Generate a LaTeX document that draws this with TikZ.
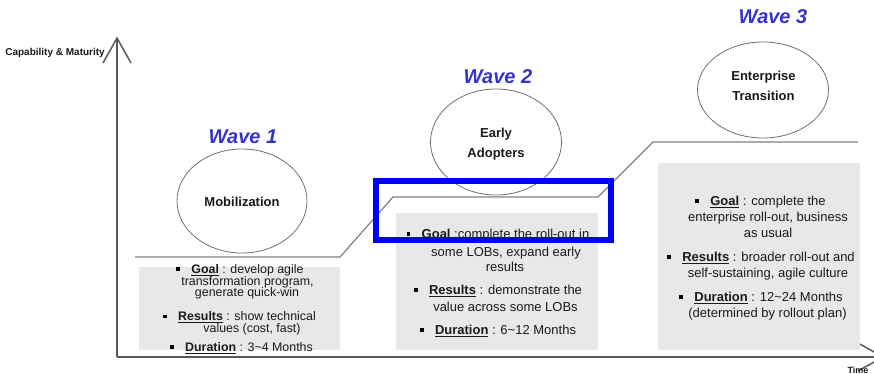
\documentclass[tikz,border=0pt]{standalone}
\usepackage{fontspec}
\setmainfont{Liberation Sans}
\usetikzlibrary{calc,shapes.geometric}
\definecolor{wavec}{HTML}{3333CC}
\definecolor{axisc}{HTML}{5A5A5A}
\definecolor{stairc}{HTML}{808080}
\definecolor{ovalc}{HTML}{707070}
\definecolor{panelc}{HTML}{E8E8E8}
\definecolor{bodyc}{HTML}{1A1A1A}
\newcommand\hd[1]{\underline{\textbf{#1}}}
% first line of a bulleted paragraph: text node plus a square bullet to its left
\newcommand\bulletline[5][]{%
  \node[body,#1] (#2) at (#3,#4) {#5};
  \node[bul] (#2-b) at ($(#2.base west)+(-13,-4.3)$) {};}
\begin{document}
\begin{tikzpicture}[x=1pt,y=-1pt,
  wave/.style={font=\fontsize{20}{20}\selectfont\bfseries\itshape, text=wavec, inner sep=0pt, anchor=base},
  body/.style={font=\fontsize{13}{13}\selectfont, text=bodyc, inner sep=0pt, anchor=base},
  tight/.style={font=\fontsize{12.4}{12.4}\selectfont},
  stage/.style={font=\fontsize{13}{13}\selectfont\bfseries, text=bodyc, inner sep=0pt, anchor=base},
  axislabel/.style={font=\fontsize{10}{10}\selectfont\bfseries, text=bodyc, inner sep=0pt},
  oval/.style={ellipse, draw=ovalc, line width=0.8pt, fill=white, inner sep=0pt},
  panel/.style={fill=panelc, draw=none},
  bul/.style={rectangle, fill=black, draw=none, minimum size=3.5pt, inner sep=0pt},
  axis/.style={draw=axisc, line width=1.5pt},
  stair/.style={draw=stairc, line width=1.2pt},
  focus/.style={draw=blue, line width=6pt}]
\useasboundingbox (0,0) rectangle (874,374);
\clip (0,0) rectangle (874,374);

% axes
\coordinate (ytip) at (117,38);
\coordinate (origin) at (117,357);
\coordinate (xtip) at (883,357);
\draw[axis] (origin) -- (ytip);
\draw[axis] (origin) -- (xtip);
\draw[axis] (103,63) -- (ytip) -- (131,63);
\draw[axis] (858,343) -- (xtip) -- (858,371);
\node[axislabel, anchor=base east] (ylab) at (105,55.5) {Capability \& Maturity};
\node[axislabel, font=\fontsize{9}{9}\selectfont\bfseries, anchor=base] (xlab) at (858,373.5) {Time};

% maturity staircase
\coordinate (s0) at (135,257);
\coordinate (s1) at (340,257);
\coordinate (s2) at (393,197);
\coordinate (s3) at (598,197);
\coordinate (s4) at (653,142);
\coordinate (s5) at (858,142);
\draw[stair] (s0) -- (s1) -- (s2) -- (s3) -- (s4) -- (s5);

% description panels
\fill[panel] (139,267) rectangle (340,350);
\fill[panel] (396,213) rectangle (598,350);
\fill[panel] (658,163) rectangle (860,350);

% wave ovals
\node[oval, minimum width=130pt, minimum height=104pt] (e1) at (242,201) {};
\node[oval, minimum width=131pt, minimum height=106pt] (e2) at (496,142) {};
\node[oval, minimum width=131pt, minimum height=96pt] (e3) at (763,90) {};
\node[stage] (e1t) at (242,206.5) {Mobilization};
\node[stage] (e2t) at (496,137.5) {Early};
\node[stage] (e2u) at (496,157.5) {Adopters};
\node[stage] (e3t) at (763.5,80.5) {Enterprise};
\node[stage] (e3u) at (763.5,100.5) {Transition};

% wave titles
\node[wave] (w1) at (243,144) {Wave 1};
\node[wave] (w2) at (498,84) {Wave 2};
\node[wave] (w3) at (773,24) {Wave 3};

% wave 1 panel text (tightly spaced)
\bulletline[tight]{a1}{247.5}{273.5}{\hd{Goal} : develop agile}
\node[body,tight] (a1b) at (247.5,285.2) {transformation program,};
\node[body,tight] (a1c) at (247,296.9) {generate quick-win};
\bulletline[tight]{a2}{247}{320.8}{\hd{Results} : show technical}
\node[body,tight] (a2b) at (252,332.5) {values (cost, fast)};
\bulletline[tight]{a3}{249}{351.5}{\hd{Duration} : 3\textasciitilde 4 Months}

% wave 2 panel text
\bulletline{b1}{505.5}{238.5}{\hd{Goal} :complete the roll-out in}
\node[body] (b1b) at (506,256.5) {some LOBs, expand early};
\node[body] (b1c) at (505,271.5) {results};
\bulletline{b2}{505.5}{294.5}{\hd{Results} : demonstrate the}
\node[body] (b2b) at (505.5,311.5) {value across some LOBs};
\bulletline{b3}{505.5}{334.5}{\hd{Duration} : 6\textasciitilde 12 Months}

% wave 3 panel text
\bulletline{c1}{768}{205.5}{\hd{Goal} : complete the}
\node[body] (c1b) at (768,221.5) {enterprise roll-out, business};
\node[body] (c1c) at (768,237.5) {as usual};
\bulletline{c2}{768.5}{261.5}{\hd{Results} : broader roll-out and}
\node[body] (c2b) at (768,277.5) {self-sustaining, agile culture};
\bulletline{c3}{768.5}{301.5}{\hd{Duration} : 12\textasciitilde 24 Months}
\node[body] (c3b) at (767.5,317.5) {(determined by rollout plan)};

% highlight frame
\draw[focus] (376,181) rectangle (611,240);
\end{tikzpicture}
\end{document}
